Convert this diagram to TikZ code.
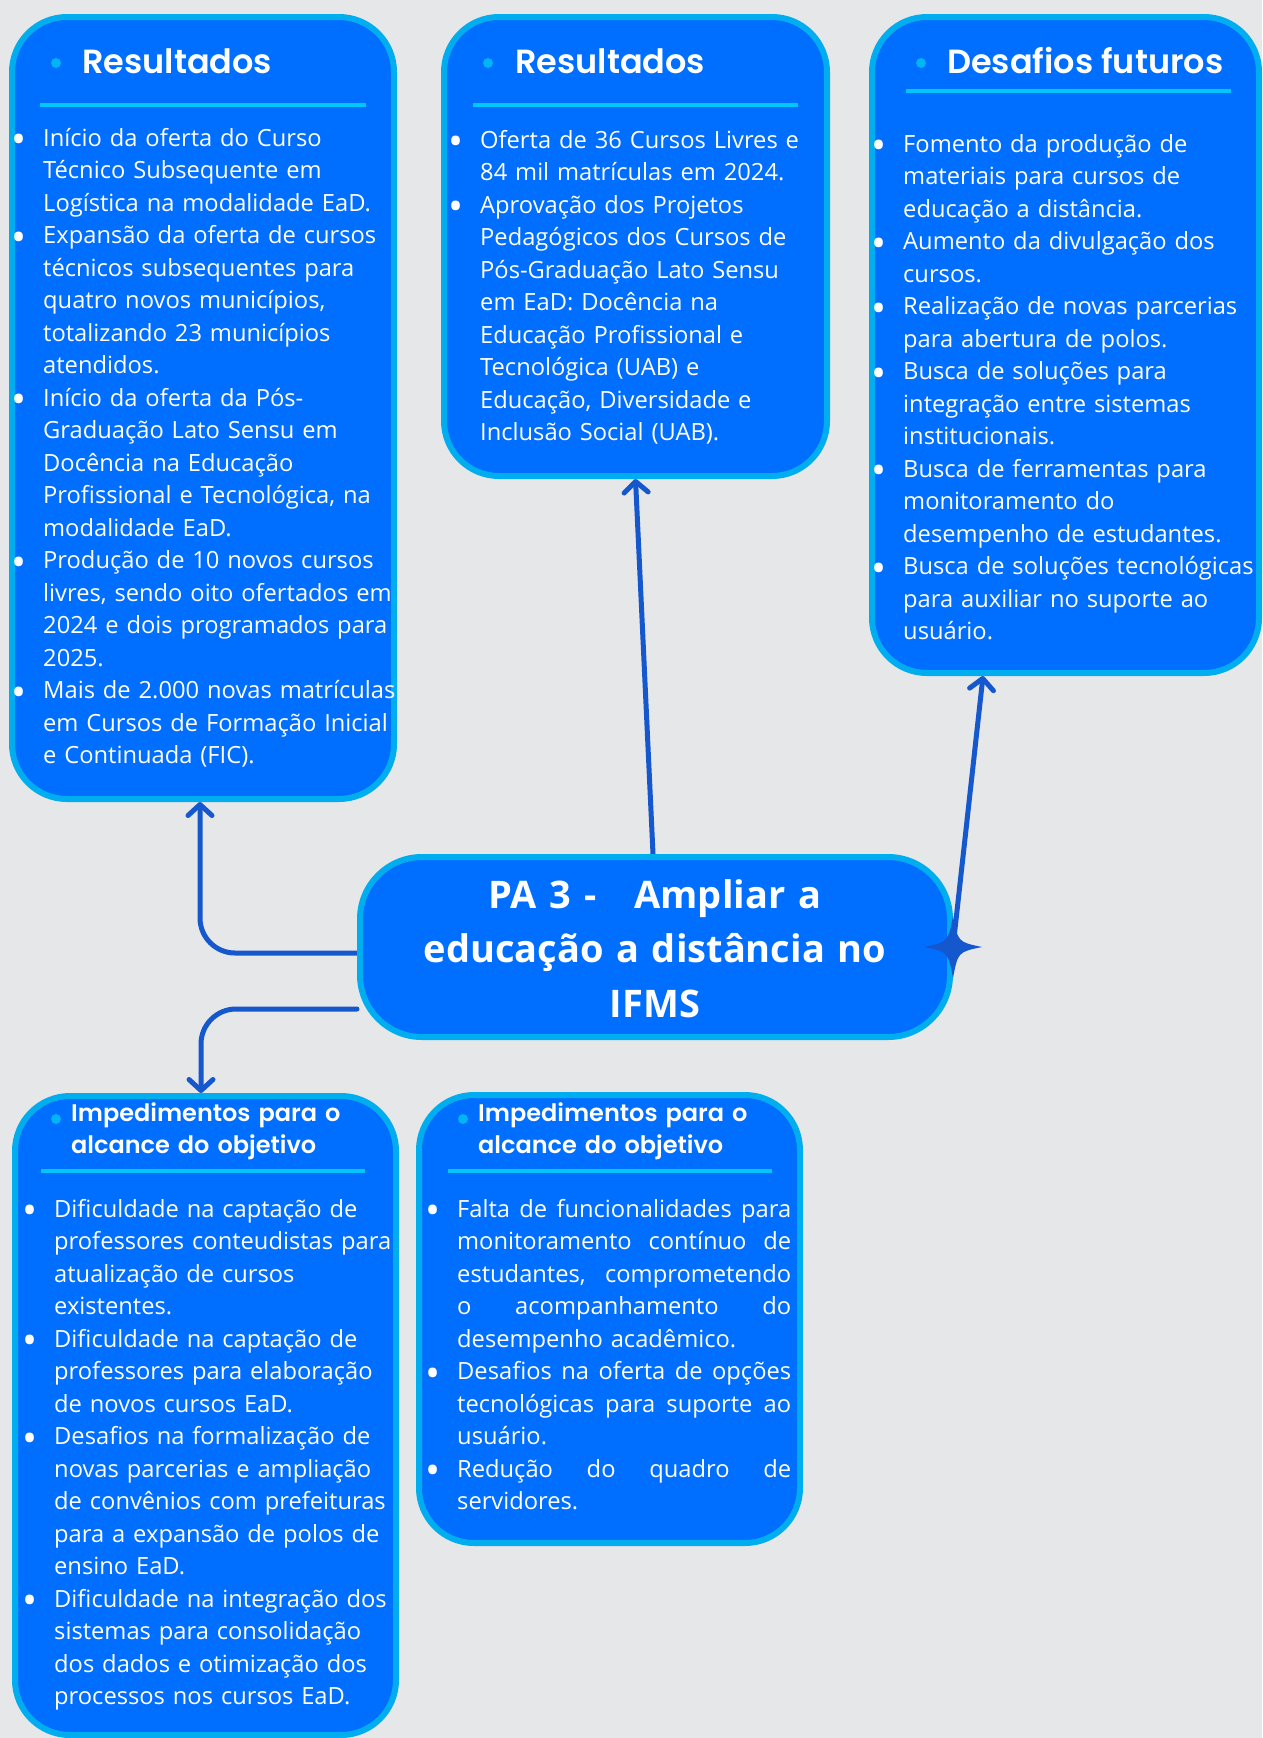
\documentclass[tikz,border=0pt]{standalone}
\usepackage{fontspec}
\setmainfont{Open Sans}
\newfontfamily\hdrfont{Poppins SemiBold}
\usetikzlibrary{arrows.meta}
\definecolor{bgc}{RGB}{230,231,233}
\definecolor{boxfill}{RGB}{0,110,255}
\definecolor{boxborder}{RGB}{0,174,239}
\definecolor{uline}{RGB}{0,200,255}
\definecolor{dotc}{RGB}{0,180,245}
\definecolor{connc}{RGB}{21,88,205}
\pgfdeclarelayer{bg}
\pgfsetlayers{bg,main}
\newcommand\itemdot{\leavevmode\makebox[0pt][r]{\raisebox{-7.5pt}{\fontsize{40pt}{40pt}\selectfont\textbullet}\hspace{16.5pt}}}
\newcommand\jline[1]{\leavevmode\hbox to 334pt{#1}}
\begin{document}
\begin{tikzpicture}[x=1pt,y=-1pt,
  box/.style={draw=boxborder, fill=boxfill, line width=6pt, rounded corners=55pt, inner sep=0pt},
  ctrbox/.style={draw=boxborder, fill=boxfill, line width=6pt, rounded corners=62pt, inner sep=0pt, minimum width=590pt, minimum height=180pt},
  body/.style={anchor=base west, inner sep=0pt, text=white, align=left, text width=420pt, font=\fontsize{23.7pt}{32.5pt}\selectfont},
  hdr/.style={anchor=base west, inner sep=0pt, text=white, font=\hdrfont\fontsize{33.5pt}{40pt}\selectfont},
  hdrsmall/.style={anchor=base west, inner sep=0pt, text=white, align=left, text width=330pt, font=\hdrfont\fontsize{24pt}{32pt}\selectfont},
  ctrtxt/.style={anchor=base, inner sep=0pt, text=white, align=center, text width=580pt, font=\bfseries\fontsize{38pt}{54.5pt}\selectfont},
  uln/.style={draw=uline, line width=4pt},
  hdot/.style={fill=dotc},
  conn/.style={draw=connc, line width=5pt, line cap=round, -{Straight Barb[length=11pt,width=24pt,line cap=round,line join=round]}},
  star/.style={fill=connc}
]
\useasboundingbox (0,0) rectangle (1262,1738);
\begin{pgfonlayer}{bg}
\fill[bgc] (0,0) rectangle (1262,1738);
\end{pgfonlayer}

% boxes
\node[box, minimum width=382pt, minimum height=782pt] (box1) at (203,408) {};
\node[box, minimum width=383pt, minimum height=459pt] (box2) at (635.5,246.5) {};
\node[box, minimum width=387pt, minimum height=656pt] (box3) at (1065.5,345) {};
\node[box, minimum width=381pt, minimum height=639pt] (box4) at (205.5,1415.5) {};
\node[box, minimum width=381pt, minimum height=448pt] (box5) at (609.5,1319) {};
\node[ctrbox] (ctr) at (655,947) {};

% headers
\fill[hdot] (56,63) circle (5pt);
\node[hdr] (h1) at (82,73) {Resultados};
\draw[uln] (40,105) -- (366,105);

\fill[hdot] (488,63) circle (5pt);
\node[hdr] (h2) at (515,73) {Resultados};
\draw[uln] (473,105) -- (798,105);

\fill[hdot] (921,63) circle (5pt);
\node[hdr] (h3) at (947,73) {Desafios futuros};
\draw[uln] (906,91) -- (1231,91);

\fill[hdot] (56,1119) circle (5pt);
\node[hdrsmall] (h4) at (71,1121) {Impedimentos para o\\alcance do objetivo};
\draw[uln] (41,1171) -- (365,1171);

\fill[hdot] (463,1119) circle (5pt);
\node[hdrsmall] (h5) at (478,1121) {Impedimentos para o\\alcance do objetivo};
\draw[uln] (448,1171) -- (772,1171);

% bodies
\node[body] (t1) at (43,146) {\itemdot Início da oferta do Curso\\
Técnico Subsequente em\\
Logística na modalidade EaD.\\
\itemdot Expansão da oferta de cursos\\
técnicos subsequentes para\\
quatro novos municípios,\\
totalizando 23 municípios\\
atendidos.\\
\itemdot Início da oferta da Pós-\\
Graduação Lato Sensu em\\
Docência na Educação\\
Profissional e Tecnológica, na\\
modalidade EaD.\\
\itemdot Produção de 10 novos cursos\\
livres, sendo oito ofertados em\\
2024 e dois programados para\\
2025.\\
\itemdot Mais de 2.000 novas matrículas\\
em Cursos de Formação Inicial\\
e Continuada (FIC).};

\node[body] (t2) at (480,148) {\itemdot Oferta de 36 Cursos Livres e\\
84 mil matrículas em 2024.\\
\itemdot Aprovação dos Projetos\\
Pedagógicos dos Cursos de\\
Pós-Graduação Lato Sensu\\
em EaD: Docência na\\
Educação Profissional e\\
Tecnológica (UAB) e\\
Educação, Diversidade e\\
Inclusão Social (UAB).};

\node[body] (t3) at (903,152) {\itemdot Fomento da produção de\\
materiais para cursos de\\
educação a distância.\\
\itemdot Aumento da divulgação dos\\
cursos.\\
\itemdot Realização de novas parcerias\\
para abertura de polos.\\
\itemdot Busca de soluções para\\
integração entre sistemas\\
institucionais.\\
\itemdot Busca de ferramentas para\\
monitoramento do\\
desempenho de estudantes.\\
\itemdot Busca de soluções tecnológicas\\
para auxiliar no suporte ao\\
usuário.};

\node[body] (t4) at (54,1217) {\itemdot Dificuldade na captação de\\
professores conteudistas para\\
atualização de cursos\\
existentes.\\
\itemdot Dificuldade na captação de\\
professores para elaboração\\
de novos cursos EaD.\\
\itemdot Desafios na formalização de\\
novas parcerias e ampliação\\
de convênios com prefeituras\\
para a expansão de polos de\\
ensino EaD.\\
\itemdot Dificuldade na integração dos\\
sistemas para consolidação\\
dos dados e otimização dos\\
processos nos cursos EaD.};

\node[body] (t5) at (457,1217) {\itemdot\jline{Falta \hfill de \hfill funcionalidades \hfill para}\\
\jline{monitoramento \hfill contínuo \hfill de}\\
\jline{estudantes, \hfill comprometendo}\\
\jline{o \hfill acompanhamento \hfill do}\\
desempenho acadêmico.\\
\itemdot\jline{Desafios \hfill na \hfill oferta \hfill de \hfill opções}\\
\jline{tecnológicas \hfill para \hfill suporte \hfill ao}\\
usuário.\\
\itemdot\jline{Redução \hfill do \hfill quadro \hfill de}\\
servidores.};

% central text
\node[ctrtxt] (ctrt) at (655,908) {PA 3 -~~~Ampliar a\\educação a distância no\\IFMS};

% star
\fill[star] ([xshift=29pt]ctr.east) .. controls ([xshift=5pt,yshift=5pt]ctr.east) .. ([yshift=31pt]ctr.east)
  .. controls ([xshift=-5pt,yshift=5pt]ctr.east) .. ([xshift=-29pt]ctr.east)
  .. controls ([xshift=-5pt,yshift=-5pt]ctr.east) .. ([yshift=-31pt]ctr.east)
  .. controls ([xshift=5pt,yshift=-5pt]ctr.east) .. ([xshift=29pt]ctr.east) -- cycle;

% connectors
\begin{pgfonlayer}{bg}
\draw[conn, rounded corners=35pt] ([yshift=-6pt]ctr.west) -| ([xshift=-3pt]box1.south);
\draw[conn, rounded corners=35pt] ([yshift=-62pt]ctr.west) -| ([xshift=-4.5pt]box4.north);
\draw[conn] ([xshift=-2pt]ctr.north) -- (box2.south);
\draw[conn] (ctr.east) -- ([xshift=-82.5pt]box3.south);
\end{pgfonlayer}
\end{tikzpicture}
\end{document}
